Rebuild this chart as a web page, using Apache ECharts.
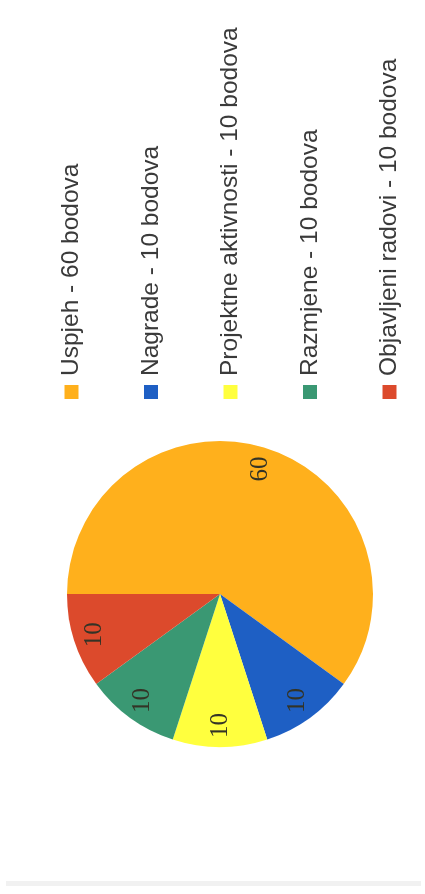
<!DOCTYPE html>
<html>
<head>
<meta charset="utf-8">
<script src="https://cdn.jsdelivr.net/npm/echarts@6/dist/echarts.min.js"></script>
<style>
  html, body { margin: 0; padding: 0; background: #ffffff; overflow: hidden; width: 425px; height: 894px; }
  #wrap {
    position: absolute; left: 0; top: 0;
    width: 894px; height: 425px;
    transform-origin: 0 0;
    transform: translate(0, 894px) rotate(-90deg);
    background: #ffffff;
  }
  #chart { width: 894px; height: 425px; }
  #edge { position: absolute; left: 8px; top: 6px; width: 5px; height: 415px; background: #f1f1f1; }
</style>
</head>
<body>
<div id="wrap">
  <div id="edge"></div>
  <div id="chart"></div>
</div>
<script>
// Data
const categories = ['Uspjeh', 'Nagrade', 'Projektne aktivnosti', 'Razmjene', 'Objavljeni radovi'];
const values = [60, 10, 10, 10, 10];
const unit = 'bodova';
const colors = ['#FFB01C', '#1E5FC4', '#FFFF3E', '#3A9873', '#DC4A2C'];

const names = categories.map((c, i) => c + ' - ' + values[i] + ' ' + unit);
const pieData = names.map((n, i) => ({ name: n, value: values[i], itemStyle: { color: colors[i] } }));
const labelData = names.map((n, i) => ({ name: n, value: values[i] }));

const chart = echarts.init(document.getElementById('chart'), null, { renderer: 'canvas' });
chart.setOption({
  animation: false,
  backgroundColor: 'transparent',
  legend: {
    orient: 'vertical',
    left: 490,
    top: 54,
    itemWidth: 14,
    itemHeight: 14,
    itemGap: 54.5,
    icon: 'rect',
    data: names,
    selectedMode: false,
    textStyle: {
      fontFamily: 'Liberation Sans, Arial, sans-serif',
      fontSize: 24.5,
      color: '#3a3a3a',
      padding: [0, 0, 0, 4]
    }
  },
  series: [
    {
      type: 'pie',
      center: [300, 220],
      radius: [0, 153],
      startAngle: 90,
      clockwise: true,
      data: pieData,
      label: { show: false },
      labelLine: { show: false },
      itemStyle: { borderWidth: 0 },
      emphasis: { disabled: true },
      silent: true
    },
    {
      type: 'pie',
      center: [300, 220],
      radius: [104, 153],
      startAngle: 90,
      clockwise: true,
      data: labelData,
      itemStyle: { color: 'rgba(0,0,0,0)', borderWidth: 0 },
      label: {
        show: true,
        position: 'inside',
        formatter: '{c}',
        fontFamily: 'Liberation Serif, Times New Roman, serif',
        fontSize: 25,
        color: '#333326'
      },
      labelLine: { show: false },
      emphasis: { disabled: true },
      legendHoverLink: false,
      silent: true
    }
  ]
});
</script>
</body>
</html>
